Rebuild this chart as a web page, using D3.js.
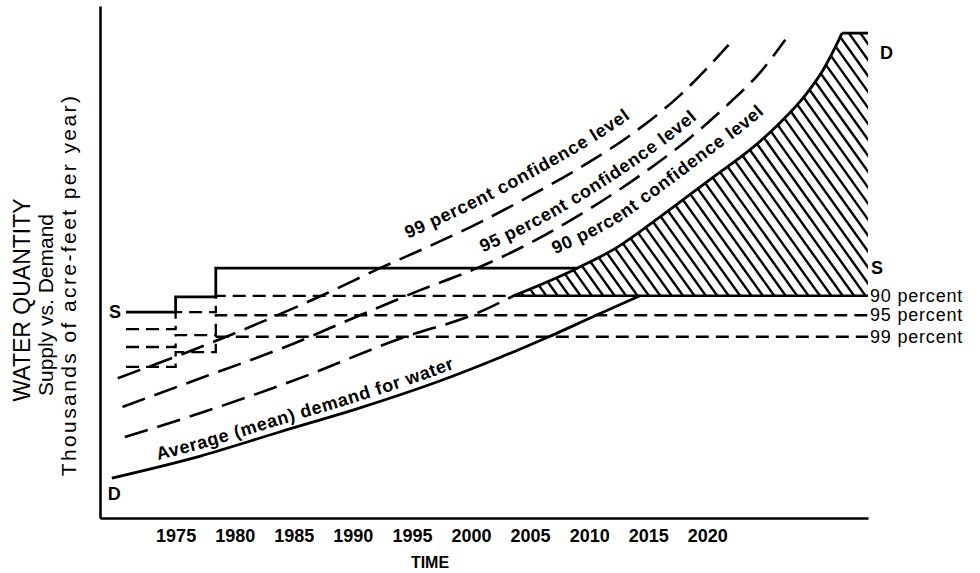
<!DOCTYPE html>
<html>
<head>
<meta charset="utf-8">
<script src="https://cdn.jsdelivr.net/npm/d3@7"></script>
<style>
  body { margin: 0; background: #fff; }
  svg { display: block; font-family: 'Liberation Sans', Arial, Helvetica, sans-serif; }
</style>
</head>
<body>
<svg id="chart" width="980" height="573"></svg>
<script>
// time axis
const tickYears = [1975, 1980, 1985, 1990, 1995, 2000, 2005, 2010, 2015, 2020]
const yearRange = [1968.6, 2033.6]

// supply: step years and levels (arbitrary units, thousands of acre-feet)
const stepYears = [1970.8, 1975.0, 1978.4]
const supplyS = [40.2, 43.2, 48.8]
const supply90 = [36.9, 40.2, 43.4]
const supply95 = [33.4, 35.7, 39.6]
const supply99 = [29.5, 32.4, 35.4]

// average (mean) demand
const meanYears = [1969.6, 1977.1, 1983.8, 1990.6, 1997.4, 2002.5, 2006.4, 2010.5, 2014.3]
const meanDemand = [7.8, 12.1, 16.8, 21.5, 26.8, 31.4, 35.2, 39.5, 43.4]

// demand at 90 / 95 / 99 percent confidence level
const c90Years = [1970.7, 1977.1, 1984.7, 1994.2, 2000.5, 2003.6, 2009.0, 2012.4, 2016.0, 2020.5, 2023.6, 2026.2, 2028.3, 2029.8, 2030.8, 2031.4]
const c90Demand = [15.8, 20.5, 26.6, 35.2, 40.0, 43.4, 48.8, 52.9, 58.8, 66.6, 71.9, 77.3, 82.6, 87.5, 91.8, 94.7]
const c95Years = [1970.5, 1977.1, 1984.7, 1990.6, 1995.7, 2000.5, 2005.0, 2009.2, 2013.5, 2018.3, 2021.9, 2024.5, 2026.6]
const c95Demand = [21.7, 27.3, 33.8, 39.6, 44.5, 48.8, 53.7, 59.2, 65.6, 73.8, 81.1, 87.1, 93.4]
const c99Years = [1970.1, 1979.6, 1987.8, 1992.3, 1996.3, 2000.8, 2005.0, 2009.2, 2013.5, 2017.7, 2021.8]
const c99Demand = [27.3, 35.7, 43.9, 48.8, 52.9, 57.8, 62.9, 68.4, 74.8, 82.6, 92.4]

const svg = d3.select('#chart')
const x = d3.scaleLinear().domain(yearRange).range([100, 868])
const y = d3.scaleLinear().domain([0, 100]).range([518, 6])

const pts = (xs, vs) => xs.map((d, i) => ({year: d, v: vs[i]}))
const line = d3.line().curve(d3.curveMonotoneX).x(d => x(d.year)).y(d => y(d.v))
const step = d3.line().curve(d3.curveStepAfter).x(d => x(d.year)).y(d => y(d.v))
const stepPts = (levels, end) => {
  let p = pts(stepYears, levels)
  p.push({year: end, v: levels[levels.length - 1]})
  return p
}

// year at which the 90 percent demand curve reaches a level
const crossYear = (level) => {
  for (let i = 1; i < c90Years.length; i++) {
    if (c90Demand[i - 1] < level && c90Demand[i] >= level) {
      let t = (level - c90Demand[i - 1]) / (c90Demand[i] - c90Demand[i - 1])
      return c90Years[i - 1] + t * (c90Years[i] - c90Years[i - 1])
    }
  }
  return yearRange[1]
}

const level90 = supply90[supply90.length - 1]
const levelS = supplyS[supplyS.length - 1]
const cross = {year: crossYear(level90), v: level90}
const crossS = crossYear(levelS)

const c90All = pts(c90Years, c90Demand)
const c90Below = c90All.filter(d => d.v < level90).concat([cross])
const c90Above = [cross].concat(c90All.filter(d => d.v > level90))
const peak = c90All[c90All.length - 1]

// hatched deficit area
const hatchPath = line(c90Above) +
  `L${x(yearRange[1])},${y(peak.v)}L${x(yearRange[1])},${y(level90)}Z`
svg.append('clipPath').attr('id', 'hatch-clip')
  .append('path').attr('d', hatchPath)

const hatch = svg.append('g').attr('clip-path', 'url(#hatch-clip)')
const hTop = y(peak.v) - 2, hBot = y(level90) + 2
const slope = 1.4
const hs = d3.range(x(cross.year) - (hBot - hTop) / slope, x(yearRange[1]) + 12, 11.4)
hatch.selectAll('line').data(hs).enter().append('line')
  .attr('x1', d => d).attr('y1', hTop)
  .attr('x2', d => d + (hBot - hTop) / slope).attr('y2', hBot)
  .attr('stroke', '#000').attr('stroke-width', 2.4)

// supply lines
svg.append('path').datum(stepPts(supplyS, crossS)).attr('d', step)
  .attr('fill', 'none').attr('stroke', '#000').attr('stroke-width', 2.8)
svg.append('path').datum(stepPts(supply90, cross.year)).attr('d', step)
  .attr('fill', 'none').attr('stroke', '#000').attr('stroke-width', 2.3)
  .attr('stroke-dasharray', '13 7')
svg.append('path').datum([cross, {year: yearRange[1], v: level90}]).attr('d', step)
  .attr('fill', 'none').attr('stroke', '#000').attr('stroke-width', 2.6)
svg.append('path').datum(stepPts(supply95, yearRange[1])).attr('d', step)
  .attr('fill', 'none').attr('stroke', '#000').attr('stroke-width', 2.3)
  .attr('stroke-dasharray', '13 7')
svg.append('path').datum(stepPts(supply99, yearRange[1])).attr('d', step)
  .attr('fill', 'none').attr('stroke', '#000').attr('stroke-width', 2.3)
  .attr('stroke-dasharray', '13 7')

// demand curves
const curves = svg.append('g').attr('fill', 'none').attr('stroke', '#000')
curves.append('path').datum(pts(meanYears, meanDemand)).attr('d', line)
  .attr('stroke-width', 2.8)
curves.append('path').datum(c90Below).attr('d', line)
  .attr('stroke-width', 2.6).attr('stroke-dasharray', '24 10')
curves.append('path').datum(c90Above).attr('d', line)
  .attr('stroke-width', 2.8)
curves.append('path').datum([peak, {year: yearRange[1], v: peak.v}]).attr('d', line)
  .attr('stroke-width', 2.8)
curves.append('path').datum(pts(c95Years, c95Demand)).attr('d', line)
  .attr('stroke-width', 2.6).attr('stroke-dasharray', '24 10')
curves.append('path').datum(pts(c99Years, c99Demand)).attr('d', line)
  .attr('stroke-width', 2.6).attr('stroke-dasharray', '24 10')

// labels following the curves
const curveLabels = [
  {id: 'lab-mean', data: pts(meanYears, meanDemand), gap: 7, startX: 158, text: 'Average (mean) demand for water'},
  {id: 'lab-99', data: pts(c99Years, c99Demand), gap: 17, startX: 408, text: '99 percent confidence level'},
  {id: 'lab-95', data: pts(c95Years, c95Demand), gap: 13, startX: 483, text: '95 percent confidence level'},
  {id: 'lab-90', data: c90All, gap: 24, startX: 555, text: '90 percent confidence level'}
]
const defs = svg.append('defs')
curveLabels.forEach(l => {
  let shifted = d3.line().curve(d3.curveMonotoneX)
    .x(d => x(d.year)).y(d => y(d.v) - l.gap)
  let p = defs.append('path').attr('id', l.id).attr('d', shifted(l.data)).node()
  let lo = 0, hi = p.getTotalLength()
  for (let k = 0; k < 30; k++) {
    let mid = (lo + hi) / 2
    if (p.getPointAtLength(mid).x < l.startX) lo = mid; else hi = mid
  }
  svg.append('text').attr('font-size', 18).attr('font-weight', 'bold')
    .attr('letter-spacing', 0.7)
    .append('textPath').attr('href', '#' + l.id).attr('startOffset', lo)
    .text(l.text)
})

// axes
const xAxis = svg.append('g').attr('transform', `translate(0,${y(0)})`)
  .call(d3.axisBottom(x).tickValues(tickYears).tickSize(0).tickSizeOuter(0)
    .tickPadding(11).tickFormat(d3.format('d')))
xAxis.select('.domain').attr('stroke-width', 2.6)
xAxis.selectAll('text').attr('font-size', 18).attr('font-weight', 'bold')
  .attr('font-family', 'Liberation Sans, Arial, sans-serif')

const yAxis = svg.append('g').attr('transform', `translate(${x(yearRange[0])},0)`)
  .call(d3.axisLeft(y).tickValues([]).tickSizeOuter(0))
yAxis.select('.domain').attr('stroke-width', 2.6)

svg.append('text').attr('x', 430).attr('y', 568).attr('text-anchor', 'middle')
  .attr('font-size', 16).attr('font-weight', 'bold').text('TIME')

// y title
const yTitles = [
  {text: 'WATER QUANTITY', x: 30, y: 300, size: 23, spacing: 0},
  {text: 'Supply vs. Demand', x: 53, y: 305, size: 21, spacing: 0},
  {text: 'Thousands of acre-feet per year)', x: 76, y: 285, size: 21, spacing: 2.4}
]
svg.selectAll('.ytitle').data(yTitles).enter().append('text')
  .attr('class', 'ytitle')
  .attr('transform', d => `translate(${d.x},${d.y}) rotate(-90)`)
  .attr('text-anchor', 'middle').attr('font-size', d => d.size)
  .attr('letter-spacing', d => d.spacing)
  .text(d => d.text)

// end labels
const endLabels = [
  {text: 'S', year: stepYears[0], v: supplyS[0], dx: -17, bold: true},
  {text: 'D', year: meanYears[0], v: meanDemand[0], dx: -4, dy: 16, bold: true},
  {text: 'D', year: yearRange[1], v: peak.v, dx: 12, dy: 20, bold: true},
  {text: 'S', year: yearRange[1], v: levelS, dx: 3, bold: true},
  {text: '90 percent', year: yearRange[1], v: level90, dx: 2},
  {text: '95 percent', year: yearRange[1], v: supply95[2], dx: 2},
  {text: '99 percent', year: yearRange[1], v: supply99[2], dx: 2}
]
svg.selectAll('.endlab').data(endLabels).enter().append('text')
  .attr('class', 'endlab')
  .attr('x', d => x(d.year) + d.dx)
  .attr('y', d => y(d.v) + (d.dy || 0) + 6)
  .attr('font-size', 18)
  .attr('letter-spacing', d => d.bold ? 0 : 0.8)
  .attr('font-weight', d => d.bold ? 'bold' : 'normal')
  .text(d => d.text)
</script>
</body>
</html>
